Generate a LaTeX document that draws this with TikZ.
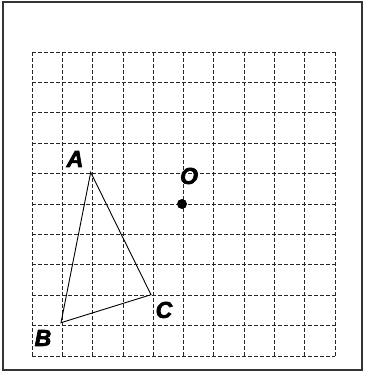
\documentclass[tikz,border=0pt]{standalone}
\usepackage{fontspec}
\setmainfont{Liberation Sans}
\newfontfamily\lblfont{Liberation Sans}[BoldItalicFeatures={FakeBold=3}]
\begin{document}
\begin{tikzpicture}[x=1pt,y=-1pt,
  gridline/.style={dash pattern=on 4pt off 2pt, line width=0.8pt, black!85},
  lbl/.style={font=\lblfont\fontsize{23}{23}\selectfont\bfseries\itshape, inner sep=0pt},
  side/.style={line width=0.9pt, black}]
\useasboundingbox (0,0) rectangle (364,372);
\draw[line width=1.8pt, black!80] (3,2) rectangle (362,370);
\foreach \i in {0,...,10} {
  \draw[gridline] ({32+30.3*\i},52) -- ({32+30.3*\i},356);
  \draw[gridline] (32,{52+30.4*\i}) -- (335,{52+30.4*\i});
}
\coordinate (A) at (90.7,172.3);
\coordinate (B) at (61,322.7);
\coordinate (C) at (151,294.7);
\draw[side] (A) -- (B) -- (C) -- cycle;
\node[circle, fill=black, inner sep=0pt, minimum size=10pt] (O) at (182,204) {};
\node[lbl] (lA) at (75,159) {A};
\node[lbl] (lB) at (43,338) {B};
\node[lbl] (lC) at (164,310) {C};
\node[lbl] (lO) at (189,176) {O};
\end{tikzpicture}
\end{document}
